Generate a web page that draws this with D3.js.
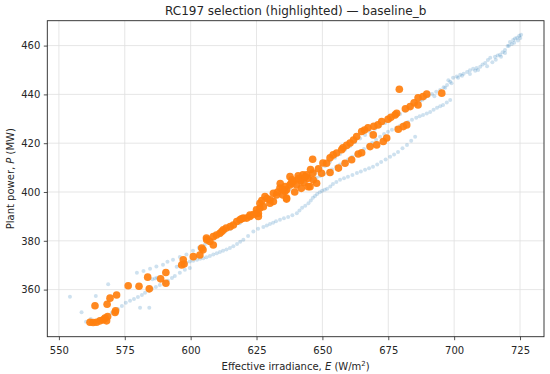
<!DOCTYPE html>
<html>
<head>
<meta charset="utf-8">
<script src="https://cdn.jsdelivr.net/npm/d3@7"></script>
<style>
  body { margin: 0; background: #fff; }
  svg text { font-family: "DejaVu Sans", sans-serif; fill: #262626; }
  .grid line { stroke: #e0e0e0; stroke-width: 0.8; }
</style>
</head>
<body>
<div id="my_dataviz"><svg></svg></div>
<script>
// background points (all days), E in W/m2, P in MW
var bgUpper = [
  [579.6,366.9],[582.1,367.6],[584.6,368.5],[587,369.5],[589.5,370.2],[591.2,371.4],[593.3,372.2],[595.9,373.4],
  [598.4,374.4],[600.9,375.9],[603.1,377.2],[605.4,378.4],[607.4,379.6],[609.2,381.2],[611.2,382.3],[613,383.7],
  [615,384.8],[616.8,386.2],[618.6,387.2],[620.6,388.6],[622.4,389.7],[624.4,391.1],[626.3,392.8],[628.2,394.4],
  [630.1,395.6],[632,397.2],[634,398.8],[635.8,400.1],[637.6,401.2],[639.6,402.6],[641.5,403.9],[643.4,405],
  [645.3,406.4],[647.2,407.8],[649.1,409.3],[651,410.7],[652.9,412.4],[654.8,414],[656.7,415.6],[658.6,417.3],
  [660.5,418.9],[662.4,420.5],[664.3,421.9],[666.2,423.4],[668.1,424.6],[670,425.9],[671.9,427.1],[673.8,428.3],
  [675.7,429.5],[677.6,430.8],[679.5,432],[681.4,433.2],[683.3,434.6],[685.2,436.1],[687.1,437.3],[689,438.6],
  [690.3,439.4],[691.6,440.2],[693.2,441.1],[694.7,441.8],[696,442.9],[697.3,443.9],[698.5,445.2],[699.6,446.8],
  [701,447.3],[702.3,448],[703.6,448.5],[704.9,449.2],[706,449.9],[707.2,450.5],[708.5,450.8],[709.9,451.3],
  [710.8,452.2],[711.8,452.9],[712.8,454.1],[713.7,455],[715.5,455.4],[716.5,455.9],[717.4,456.2],[718.4,457.3],
  [719.3,458.2],[720.3,459.8],[721.2,461.5],[722.4,462.3],[723.1,462.9],[723.9,463.2],[724.7,464],[725.4,464.4],
  [696.6,442.7],[701.5,446.8],[706,448.4],[709.1,450],[712.5,451.5],[715.8,454.2],[719.3,457],[720.8,459.9],
  [721.9,460.7],[724.2,462.1],[692.5,439.2],[688,437.8],[699,444.6],[703,447.6],[708,449.7],[714.5,453.2],
  [717.8,455.4],[722.8,461.2],[725.1,463.1],[697.8,445.8]
];
var bgLower = [
  [594.7,369.4],[595.9,370],[597.1,370.5],[598.4,371],[599.7,371.5],[601,371.8],[602.4,372.2],[603.6,372.6],
  [604.8,372.9],[606,373.3],[607.3,373.8],[608.6,374.4],[609.9,374.9],[611.1,375.4],[612.3,375.9],[613.6,376.4],
  [614.9,377],[616.2,377.8],[617.6,378.7],[618.8,379.6],[620,380.4],[621.8,382],[623.8,383.8],[625.6,384.9],
  [627.6,385.7],[628.9,386.3],[630.1,386.9],[631.3,387.4],[632.4,388],[633.9,388.6],[635.4,389.2],[637,389.8],
  [638.6,390.5],[640.3,391.3],[641.3,392.4],[642.3,393.5],[643.5,394.4],[644.7,395.4],[645.6,396.5],[646.4,397.6],
  [647.2,398.4],[648,399.2],[649,399.9],[649.9,400.5],[650.9,400.9],[651.8,401.3],[653,402.3],[654,403.3],
  [655.3,404.1],[656.7,405],[658.2,405.6],[659.7,406.2],[661.4,407],[663.1,407.8],[664.6,408.4],[666.2,409.1],
  [667.7,409.7],[669.2,410.3],[670.8,411.3],[672.3,412.3],[674,413.3],[675.7,414.4],[677.2,415.4],[678.7,416.4],
  [680.4,417.9],[682.1,419.3],[683.7,421],[685.2,422.6]
];
var bgMid = [
  [646.4,405],[647.8,405.8],[649.1,406.6],[650.6,407.4],[652.1,408.2],[653.7,409.2],[655.2,410.3],[656.7,411.3],
  [658.2,412.3],[659.8,413.3],[661.3,414.4],[662.8,415.4],[664.3,416.4],[665.8,417.6],[667.3,418.9],[668.9,420.2],
  [670.4,421.4],[671.9,422.6],[673.4,423.8],[674.9,424.7],[676.4,425.5],[678,426.3],[679.5,427.1],[681,427.9],
  [682.5,428.7],[684,429.6],[685.6,430.4],[686.9,431],[688.2,431.6],[689.6,432.2],[690.9,432.8],[692.2,433.7],
  [693.5,434.5],[694.7,435.1],[695.8,435.7],[697.2,436.7],[698.5,437.7]
];
var bgLeft = [
  [560.3,346.8],[562.1,348],[565.6,348],[567.1,348.8],[568.6,349.2],[570.1,350.5],[571.3,350.9],[572.4,352.1],
  [573.9,353.3],[575.4,354.6],[577,355.4],[578.5,356.2],[580,357],[581.5,357.8],[582.7,358.7],[584.2,359.5],
  [585.3,360.3],[586.8,361.1],[588.3,361.9],[589.9,362.8],[591.4,363.6],[592.9,364.8],[594,365.6],[595.9,366.9],
  [597.8,368.1],[599.7,368.9],[585.5,364.2],[586.5,364.5],[587.3,364.9]
];
var bgScatter = [
  [554.2,357.1],[558.6,350.7],[564,357.4],[568.7,362.2],[580.8,352.6],[584.3,352.6]
];
// RC197 selected points
var selected = [
  [561.8,346.6],[563,346.5],[564.3,346.6],[565.6,347.2],[566.8,347.6],[568.1,347.2],[567.5,348.3],[568.5,349],
  [571.3,350.6],[571.5,351.3],[563.7,353.4],[568.3,354],[569.4,356.5],[571.9,357.8],[576.3,361.6],[580.4,361.4],
  [584.3,360.3],[583.7,365.1],[588.6,364.4],[590.6,367],[590.6,362.6],[597.5,370.5],[597.2,372.2],[596.6,370.1],
  [601,373.5],[603.5,374.2],[604.7,376.3],[604.2,377],[606,381.1],[606.1,380.4],[608.6,381.7],[607.3,379.7],
  [608.6,378.3],[611.1,383.1],[611.8,383.8],[612.4,384.5],[616.2,386.5],[617.5,387.9],[618.7,388.6],[620,389.3],
  [621.3,389.3],[622.5,390],[622.5,390.6],[625,391.3],[625.7,391.3],[625,392.7],[625.7,390],[626.3,393.4],
  [627.6,394],[626.3,395.4],[628.2,398.1],[630.1,395.4],[630.1,396.8],[631.4,396.1],[631.4,399.5],[632.6,398.8],
  [633.9,401.6],[636.4,397.5],[637.7,402.9],[639,404.3],[635.8,400.3],[636.4,400.9],[637.7,406.3],[640.2,402.9],
  [642.6,407],[644,407],[645.3,402.2],[646.4,407.8],[647.8,403.6],[649.7,407.7],[650.2,411.9],[651.6,411.8],
  [646.3,413.4],[646.5,405],[644.6,402.2],[652.9,414],[654.1,415.2],[655.4,416],[657.3,417.3],[657.8,418.1],
  [660.5,420.1],[663,422.7],[664.9,424.8],[667.3,426.3],[671.1,427.5],[672.5,428.9],[674.9,429.8],[677.6,431.6],
  [678.2,432.3],[683.3,435],[686.3,435.7],[686.3,438.6],[688.2,439.1],[689.6,440.1],[695.3,440.5],[679.2,442.1],
  [652.9,408],[656.1,409.8],[658.6,411.8],[661.1,413.2],[663.6,415.6],[664.9,416.1],[668.1,418.6],[670.6,419.3],
  [673.1,420.7],[674.4,422.1],[669.3,423.4],[678.8,425.7],[680.7,426.8],[682,427.5],[635.8,402.2],[636.4,397.1],
  [634,403.5],[638.5,405],[641,405.5],[643,403.8],[639.5,400],[642,401.5],[635,398.8],[633,400],
  [640.8,406.6],[645.5,409.2],[648.5,409.5],[644.5,405.6],[609.8,382.4],[613.5,385.2],[615,385.8],[619.3,389],
  [623.8,390.8],[627,396.5],[629,397.3],[634.8,401],[638.2,403.6],[641.8,404.6],[643.6,406.2],[659.2,419.1],
  [661.8,421.3],[666,425.4],[669.5,426.9],[676,430.6],[681.5,434.1],[684.8,436.6]
];
var xTicks = [550, 575, 600, 625, 650, 675, 700, 725];
var yTicks = [360, 380, 400, 420, 440, 460];

var W = 550, H = 374;
var margin = {left: 47.3, right: 6, top: 20.7, bottom: 37.3};
var width = W - margin.left - margin.right;
var height = H - margin.top - margin.bottom;

var svg = d3.select("#my_dataviz").select("svg")
    .attr("width", W).attr("height", H);
var g = svg.append("g")
    .attr("transform", "translate(" + margin.left + "," + margin.top + ")");

var xAxis = d3.scaleLinear().domain([545.6, 734.1]).range([0, width]);
var yAxis = d3.scaleLinear().domain([340.7, 470.2]).range([height, 0]);

// grid
g.append("g").attr("class", "grid")
    .selectAll("line").data(xTicks).enter().append("line")
    .attr("x1", function (d) { return xAxis(d); })
    .attr("x2", function (d) { return xAxis(d); })
    .attr("y1", 0).attr("y2", height);
g.append("g").attr("class", "grid")
    .selectAll("line").data(yTicks).enter().append("line")
    .attr("y1", function (d) { return yAxis(d); })
    .attr("y2", function (d) { return yAxis(d); })
    .attr("x1", 0).attr("x2", width);

var background = bgLeft.concat(bgScatter, bgLower, bgMid, bgUpper);
g.append("g").selectAll("circle")
    .data(background).enter().append("circle")
    .attr("cx", function (d) { return xAxis(d[0]); })
    .attr("cy", function (d) { return yAxis(d[1]); })
    .attr("r", 2)
    .attr("fill", "#1f77b4")
    .attr("fill-opacity", 0.22);

g.append("g").selectAll("circle")
    .data(selected).enter().append("circle")
    .attr("cx", function (d) { return xAxis(d[0]); })
    .attr("cy", function (d) { return yAxis(d[1]); })
    .attr("r", 3.8)
    .attr("fill", "#ff7f0e")
    .attr("fill-opacity", 0.92);

// axes
var ax = g.append("g")
    .attr("transform", "translate(0," + height + ")")
    .call(d3.axisBottom(xAxis).tickValues(xTicks).tickSize(3.5).tickPadding(3.5));
var ay = g.append("g")
    .call(d3.axisLeft(yAxis).tickValues(yTicks).tickSize(3.5).tickPadding(3.5));
[ax, ay].forEach(function (a) {
    a.select(".domain").remove();
    a.selectAll(".tick line").attr("stroke", "#262626").attr("stroke-width", 0.8);
    a.selectAll(".tick text").attr("font-size", 10).attr("fill", "#262626")
        .style("font-family", "DejaVu Sans, sans-serif");
});
ax.selectAll(".tick text").attr("dy", "1.05em");

// frame
g.append("rect")
    .attr("width", width).attr("height", height)
    .attr("fill", "none").attr("stroke", "#262626").attr("stroke-width", 0.9);

// title and labels
svg.append("text")
    .attr("x", margin.left + width / 2).attr("y", 15)
    .attr("text-anchor", "middle").attr("font-size", 12)
    .text("RC197 selection (highlighted) \u2014 baseline_b");

var xl = svg.append("text")
    .attr("x", margin.left + width / 2).attr("y", 370)
    .attr("text-anchor", "middle").attr("font-size", 10);
xl.append("tspan").text("Effective irradiance, ");
xl.append("tspan").attr("font-style", "italic").text("E");
xl.append("tspan").text(" (W/m");
xl.append("tspan").attr("font-size", 7).attr("dy", -4).text("2");
xl.append("tspan").attr("dy", 4).text(")");

var yl = svg.append("text")
    .attr("transform", "translate(13.5," + (margin.top + height / 2) + ") rotate(-90)")
    .attr("text-anchor", "middle").attr("font-size", 10);
yl.append("tspan").text("Plant power, ");
yl.append("tspan").attr("font-style", "italic").text("P");
yl.append("tspan").text(" (MW)");
</script>
</body>
</html>
